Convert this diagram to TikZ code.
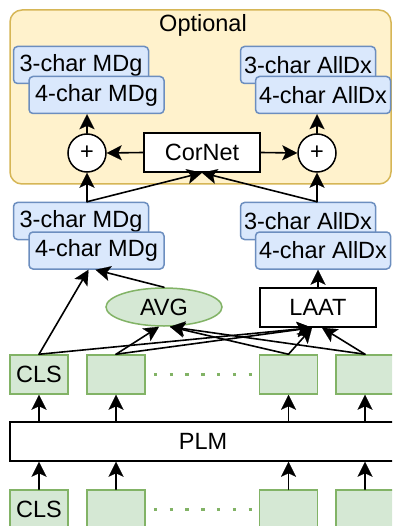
\documentclass[tikz,border=0pt]{standalone}
\usepackage{fontspec}
\setmainfont{Liberation Sans}
\usetikzlibrary{arrows.meta,shapes.geometric}
\definecolor{optfill}{HTML}{FFF2CC}
\definecolor{optdraw}{HTML}{D6B656}
\definecolor{bluefill}{HTML}{DAE8FC}
\definecolor{bluedraw}{HTML}{6C8EBF}
\definecolor{greenfill}{HTML}{D5E8D4}
\definecolor{greendraw}{HTML}{82B366}
\tikzset{
  optbox/.style={draw=optdraw,fill=optfill,line width=1.5pt,rounded corners=12pt,minimum width=381pt,minimum height=174pt,inner sep=0pt},
  codebox/.style={draw=bluedraw,fill=bluefill,line width=1.5pt,rounded corners=4pt,minimum width=135pt,minimum height=37pt,inner sep=0pt},
  tokbox/.style={draw=greendraw,fill=greenfill,line width=1.5pt,minimum width=58pt,minimum height=39pt,inner sep=0pt},
  plainbox/.style={draw,fill=white,line width=1.5pt,minimum width=116pt,minimum height=39pt,inner sep=0pt},
  plusnode/.style={draw,fill=white,circle,line width=1.5pt,minimum size=38pt,inner sep=0pt},
  avgnode/.style={draw=greendraw,fill=greenfill,ellipse,line width=1.5pt,minimum width=116pt,minimum height=38pt,inner sep=0pt},
  arr/.style={line width=1.6pt,-{Stealth[length=15pt,width=15pt,inset=3.5pt,line width=0.1pt]}}
}
\begin{document}
\begin{tikzpicture}[line cap=round,x=1pt,y=-1pt,font=\fontsize{23.5}{28}\selectfont]
\useasboundingbox (0,0) rectangle (392,526);
\clip (0,0) rectangle (392,526);
\fill[white] (0,0) rectangle (392,526);
% optional part
\node[optbox] (opt) at (200.5,97) {};
\node (optlbl) at (203,25) {Optional};
\node[codebox] (mdgTa) at (81,65) {3-char MDg};
\node[codebox] (mdgTb) at (96.5,95) {4-char MDg};
\node[codebox] (dxTa) at (308,65) {3-char AllDx};
\node[codebox] (dxTb) at (323,95) {4-char AllDx};
\node[plusnode] (plusL) at (87,153) {+};
\node[plusnode] (plusR) at (317,153) {+};
\node[plainbox] (cornet) at (202,152.5) {CorNet};
% heads
\node[codebox] (mdgMa) at (81,221) {3-char MDg};
\node[codebox] (mdgMb) at (96.5,250.5) {4-char MDg};
\node[codebox] (dxMa) at (308,221) {3-char AllDx};
\node[codebox] (dxMb) at (323,250.5) {4-char AllDx};
\node[avgnode] (avg) at (164,307) {AVG};
\node[plainbox] (laat) at (318,307.5) {LAAT};
% tokens
\node[tokbox] (clsU) at (39,374.5) {CLS};
\node[tokbox] (tokUb) at (116,374.5) {};
\node[tokbox] (tokUc) at (288.5,374.5) {};
\node[tokbox] (tokUd) at (365,374.5) {};
\node[draw,fill=white,line width=1.5pt,minimum width=386pt,minimum height=39pt,inner sep=0pt] (plm) at (203,441.5) {PLM};
\node[tokbox] (clsD) at (39,509.5) {CLS};
\node[tokbox] (tokDb) at (116,509.5) {};
\node[tokbox] (tokDc) at (288.5,509.5) {};
\node[tokbox] (tokDd) at (365,509.5) {};
\draw[greendraw,line width=3.5pt,line cap=butt,dash pattern=on 3.5pt off 12.3pt] (tokUb.east) ++(8,0) coordinate (dotUa) -- (dotUa -| tokUc.west);
\draw[greendraw,line width=3.5pt,line cap=butt,dash pattern=on 3.5pt off 12.3pt] (tokDb.east) ++(8,0) coordinate (dotDa) -- (dotDa -| tokDc.west);
% arrows
\foreach \t in {clsD,tokDb,tokDc,tokDd} \draw[arr] (\t.north) -- (\t.north |- plm.south);
\foreach \t in {clsU,tokUb,tokUc,tokUd} \draw[arr] (\t.north |- plm.north) -- (\t.south);
\draw[arr] (clsU.north) -- ([xshift=-6pt]laat.south);
\draw[arr] (tokUb.north) -- ([xshift=-5pt]avg.south);
\draw[arr] (tokUb.north) -- ([xshift=-6pt]laat.south);
\draw[arr] (tokUc.north) -- ([xshift=6pt]avg.south);
\draw[arr] (tokUc.north) -- ([xshift=-6pt]laat.south);
\draw[arr] (tokUd.north) -- ([xshift=6pt]avg.south);
\draw[arr] (tokUd.north) -- ([xshift=4pt]laat.south);
\draw[arr] (clsU.north) -- ([xshift=-8pt]mdgMb.south);
\draw[arr] (avg.north) -- ([xshift=-1pt]mdgMb.south);
\draw[arr] (laat.north) -- (laat.north |- dxMb.south);
\draw[arr] (plusL |- mdgMa.north) -- (plusL.south);
\draw[arr] (plusL |- mdgMa.north) -- (cornet.south);
\draw[arr] (plusR |- dxMa.north) -- (plusR.south);
\draw[arr] (plusR |- dxMa.north) -- (cornet.south);
\draw[arr] (cornet.west) -- (plusL.east);
\draw[arr] (cornet.east) -- (plusR.west);
\draw[arr] (plusL.north) -- (plusL.north |- mdgTb.south);
\draw[arr] (plusR.north) -- (plusR.north |- dxTb.south);
\end{tikzpicture}
\end{document}
